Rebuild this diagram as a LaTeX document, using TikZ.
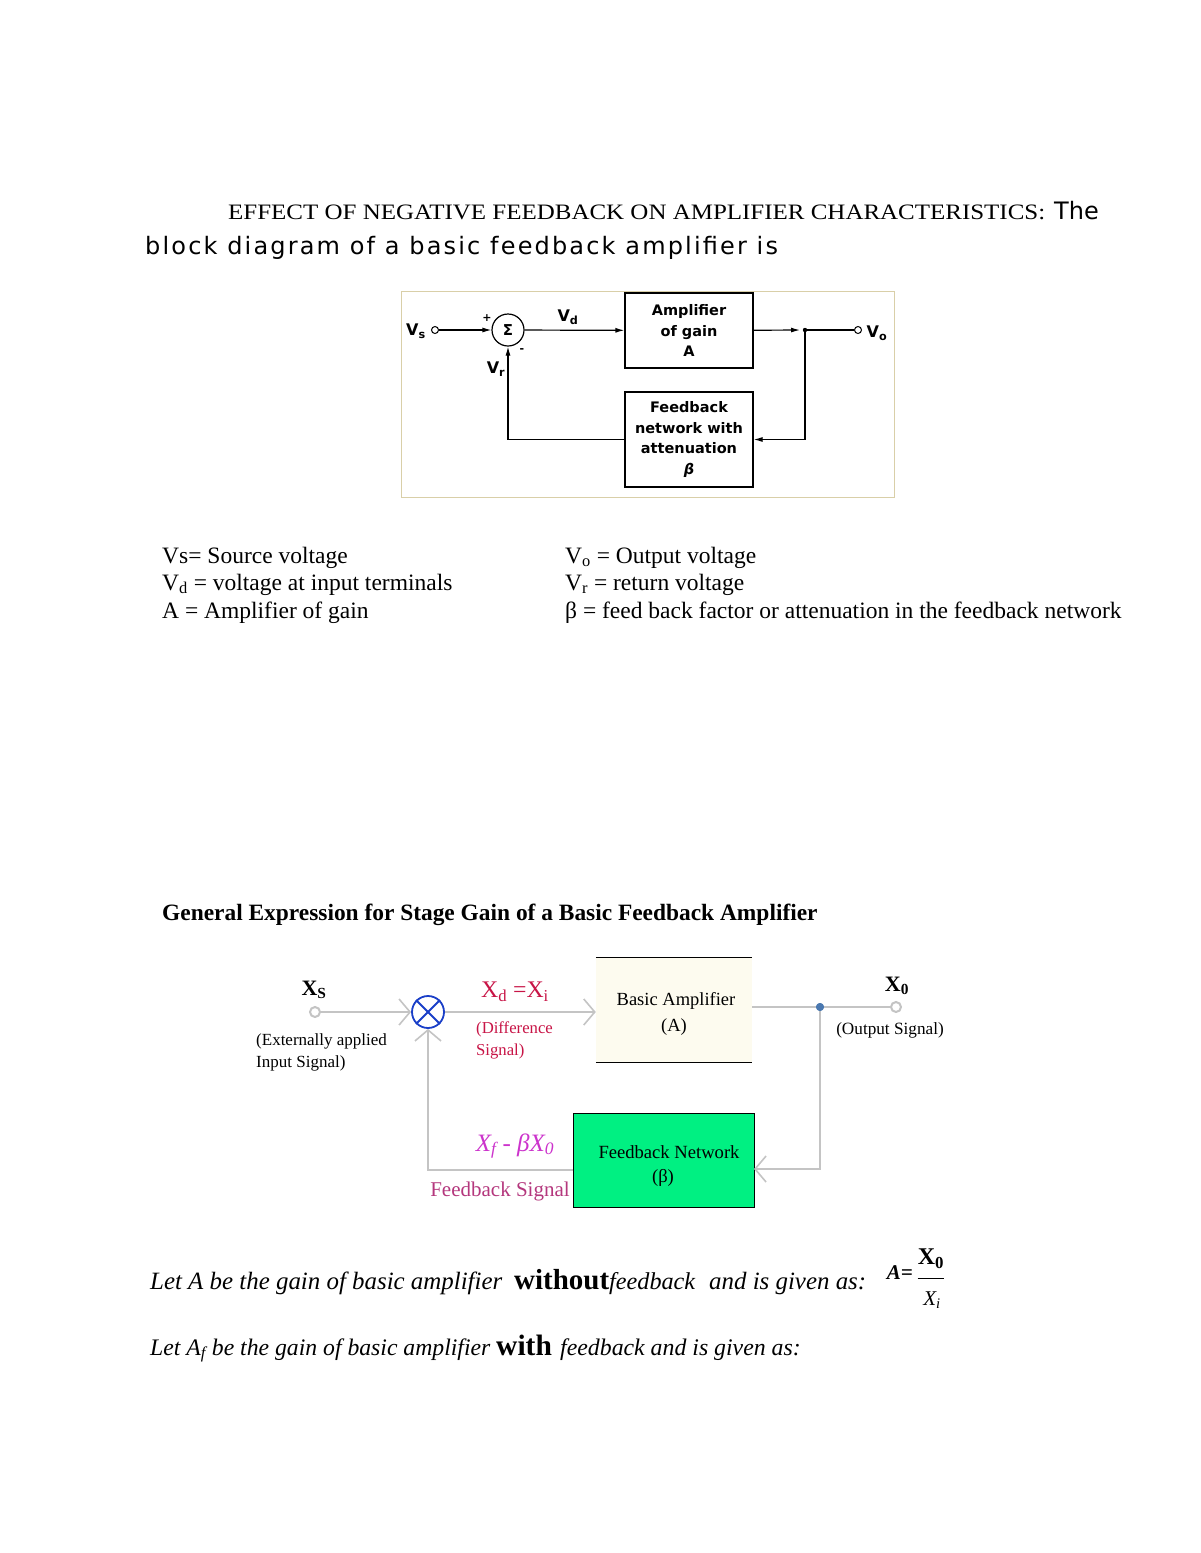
\documentclass[tikz,border=0pt]{standalone}
\usepackage{fontspec}
\setmainfont{Liberation Serif}
\newfontfamily\dv{DejaVu Sans}
\usetikzlibrary{arrows.meta}
\definecolor{framec}{RGB}{217,207,168}
\definecolor{glinec}{RGB}{196,196,196}
\definecolor{crim}{RGB}{200,20,70}
\definecolor{magx}{RGB}{204,51,204}
\definecolor{fbsig}{RGB}{180,55,125}
\definecolor{greenbox}{RGB}{0,240,130}
\definecolor{cream}{RGB}{253,251,239}
\definecolor{dotblue}{RGB}{74,120,176}
\definecolor{xblue}{RGB}{26,63,200}
\tikzset{
  fsz/.style={font=\fontsize{#1}{#1}\selectfont},
  itsz/.style={font=\itshape\fontsize{#1}{#1}\selectfont},
  bfsz/.style={font=\bfseries\fontsize{#1}{#1}\selectfont},
  tech/.style={font=\dv\bfseries\fontsize{#1}{#1}\selectfont},
  blk/.style={draw, line width=1.2pt, align=center, inner sep=0pt, font=\dv\bfseries\fontsize{14.5}{20.7}\selectfont},
  arr/.style={line width=1.2pt, -{Latex[length=9pt,width=5pt]}},
  wire/.style={line width=1.2pt},
  gline/.style={draw=glinec, line width=2.6pt},
  garr/.style={-{Straight Barb[length=11pt,width=26pt,line width=1.6pt]}},
  txt/.style={anchor=base west, inner sep=0pt},
}
\begin{document}
\begin{tikzpicture}[x=1pt,y=-1pt]
\useasboundingbox (0,0) rectangle (1200,1553);
\fill[white] (0,0) rectangle (1200,1553);

% ---------- heading ----------
\node[txt] (title) at (228,219) {\scalebox{1.135}[1]{\fontsize{22}{24}\selectfont EFFECT OF NEGATIVE FEEDBACK ON AMPLIFIER CHARACTERISTICS:}};
\node[txt, font=\dv\fontsize{24}{28}\selectfont] (the) at (1054,219) {The};
\node[txt, font=\dv\fontsize{24}{28}\selectfont\addfontfeature{LetterSpace=9}] (intro) at (145,254) {block diagram of a basic feedback amplifier is};

% ---------- first block diagram ----------
\node[draw=framec, line width=1pt, minimum width=493pt, minimum height=206pt, anchor=north west, inner sep=0pt] (frame1) at (401,291) {};
\node[blk, minimum width=128pt, minimum height=75pt] (amp) at (689,330.5) {Amplifier\\of gain\\A};
\node[blk, minimum width=128pt, minimum height=95pt] (fb) at (689,439.5) {Feedback\\network with\\attenuation\\\textit{β}};
\node[circle, draw, line width=1.2pt, minimum size=32pt, inner sep=0pt, tech=15] (sum) at (508,330) {Σ};
\node[circle, draw, line width=1pt, fill=white, minimum size=7pt, inner sep=0pt] (vsin) at (435,330) {};
\node[circle, draw, line width=1pt, fill=white, minimum size=7pt, inner sep=0pt] (vout) at (858,330) {};
\coordinate (jn) at (805,330);
\fill (jn) circle (2.2pt);

\draw[arr] (vsin) -- (sum);
\draw[arr] (sum) -- (amp);
\draw[arr, shorten >=5pt] (amp) -- (jn);
\draw[wire] (jn) -- (vout);
\draw[arr] (jn) |- (fb);
\draw[arr] (fb) -| (sum);

\node[tech=16] (lvs) at (416,331) {V\textsubscript{s}};
\node[tech=16] (lvd) at (568,317) {V\textsubscript{d}};
\node[tech=16] (lvo) at (877,333) {V\textsubscript{o}};
\node[tech=16] (lvr) at (496,369) {V\textsubscript{r}};
\node[tech=11] (lplus) at (487,318) {+};
\node[tech=11] (lminus) at (522,351) {-};

% ---------- legend ----------
\node[txt, fsz=23.5] (lg1) at (162,563) {Vs= Source voltage};
\node[txt, fsz=23.5] (lg2) at (162,590) {V\textsubscript{d} = voltage at input terminals};
\node[txt, fsz=23.5] (lg3) at (162,618) {A = Amplifier of gain};
\node[txt, fsz=23.5] (lg4) at (565,563) {V\textsubscript{o} = Output voltage};
\node[txt, fsz=23.5] (lg5) at (565,590) {V\textsubscript{r} = return voltage};
\node[txt, fsz=23.5] (lg6) at (565,618) {β = feed back factor or attenuation in the feedback network};

% ---------- second heading ----------
\node[txt, bfsz=23.4] (gen) at (162,920) {General Expression for Stage Gain of a Basic Feedback Amplifier};

% ---------- second block diagram ----------
\node[fill=cream, minimum width=156pt, minimum height=104pt, inner sep=0pt] (ba) at (674,1010) {};
\draw[line width=1pt] (ba.north west) -- (ba.north east);
\draw[line width=1pt] (ba.south west) -- (ba.south east);
\node[fsz=18.5] (batxt1) at (676,1001) {Basic Amplifier};
\node[fsz=18.5] (batxt2) at (674,1027) {(A)};

\node[draw, line width=1pt, fill=greenbox, minimum width=181pt, minimum height=94pt, inner sep=0pt] (fbn) at (663.5,1160) {};
\node[fsz=18.6] (fbtxt1) at (669,1152) {Feedback Network};
\node[fsz=18.6] (fbtxt2) at (663,1178) {(β)};

\node[circle, draw=xblue, line width=1.8pt, minimum size=32pt, inner sep=0pt] (sumx) at (428,1012) {};
\draw[xblue, line width=1.8pt] (sumx.north west) -- (sumx.south east);
\draw[xblue, line width=1.8pt] (sumx.north east) -- (sumx.south west);

\node[circle, draw=glinec, line width=2pt, fill=white, minimum size=10pt, inner sep=0pt] (xs) at (315,1012) {};
\node[circle, draw=glinec, line width=2pt, fill=white, minimum size=10pt, inner sep=0pt] (xo) at (896,1007) {};
\node[circle, fill=dotblue, minimum size=8pt, inner sep=0pt] (dot) at (820,1007) {};
\coordinate (fbin) at (754,1169);
\coordinate (fbout) at (573,1170);

\draw[gline, garr] (xs) -- (sumx);
\draw[gline, garr] (sumx) -- (sumx -| ba.west);
\draw[gline] (ba.east |- dot) -- (dot);
\draw[gline] (dot) -- (xo);
\draw[gline, garr] (dot) |- (fbin);
\draw[gline, garr] (fbout) -| (sumx);
\node[circle, fill=dotblue, minimum size=8pt, inner sep=0pt] (dot2) at (dot) {};

\node[bfsz=22] (lxs) at (314,990) {X\textsubscript{S}};
\node[bfsz=22] (lxo) at (897,986) {X\textsubscript{0}};
\node[txt, fsz=17] (lext1) at (256,1045) {(Externally applied};
\node[txt, fsz=17] (lext2) at (256,1067) {Input Signal)};
\node[text=crim, fsz=23.8] (lxd) at (515,992) {X\textsubscript{d} =X\textsubscript{i}};
\node[txt, text=crim, fsz=16.7] (ldiff1) at (476,1033) {(Difference};
\node[txt, text=crim, fsz=16.7] (ldiff2) at (476,1055) {Signal)};
\node[fsz=17.2] (lout) at (890,1030) {(Output Signal)};
\node[text=magx, itsz=25] (lxf) at (515,1146) {X\textsubscript{f} - βX\textsubscript{0}};
\node[text=fbsig, fsz=21] (lfbs) at (500,1191) {Feedback Signal};

% ---------- bottom text ----------
\node[txt, itsz=24.9] (l1a) at (150,1289) {Let A be the gain of basic amplifier};
\node[txt, bfsz=29] (l1b) at (514,1289) {without};
\node[txt, itsz=24.2] (l1c) at (609,1289) {feedback};
\node[txt, itsz=24.9] (l1d) at (709,1289) {and is given as:};
\node[anchor=east, inner sep=0pt, font=\bfseries\itshape\fontsize{21}{24}\selectfont] (fa) at (913,1273) {A=};
\node[bfsz=24, inner sep=0pt] (fnum) at (931,1259) {X\textsubscript{0}};
\node[itsz=21, inner sep=0pt] (fden) at (932,1300) {X\textsubscript{i}};
\draw[line width=1pt] (fnum.south west |- 0,1278) -- (fnum.south east |- 0,1278);

\node[txt, itsz=23.7] (l2a) at (150,1355) {Let A\textsubscript{f} be the gain of basic amplifier};
\node[txt, bfsz=29.5] (l2b) at (496,1355) {with};
\node[txt, itsz=23.8] (l2c) at (560,1355) {feedback and is given as:};
\end{tikzpicture}
\end{document}
